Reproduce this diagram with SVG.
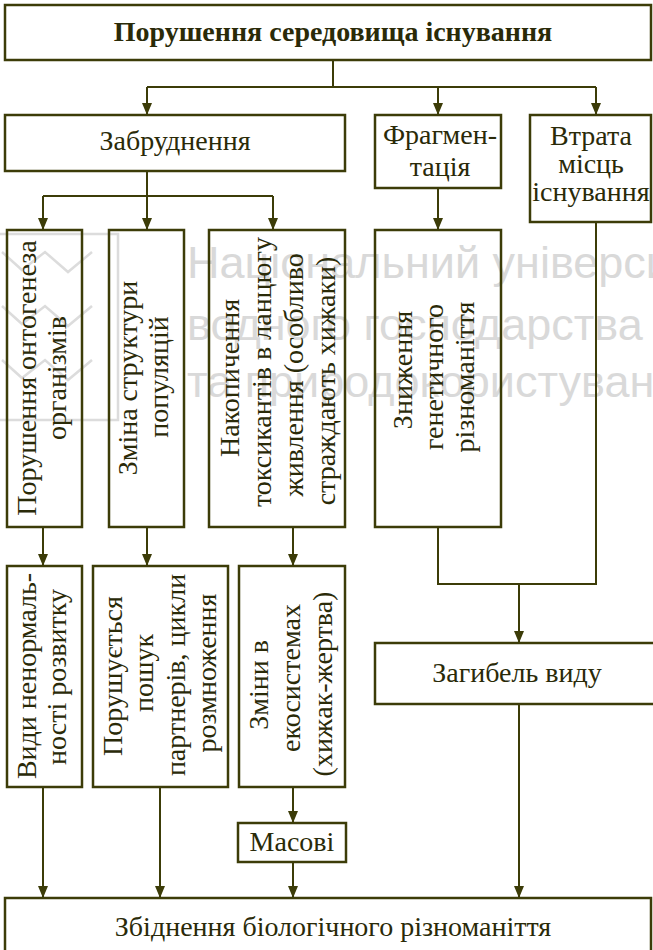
<svg xmlns="http://www.w3.org/2000/svg" width="653" height="950" viewBox="0 0 653 950">
<defs>
<style>
.box{fill:none;stroke:#3c3c08;stroke-width:2.5}
.ln{fill:none;stroke:#3c3c08;stroke-width:2}
.ar{fill:none;stroke:#3c3c08;stroke-width:2;marker-end:url(#ah)}
.t{font-family:"Liberation Serif","Times New Roman",serif;font-size:28px;fill:#2a2a08;text-anchor:middle}
.b{font-weight:bold}
.wm{font-family:"Liberation Sans",Arial,sans-serif;font-size:45px;fill:#d9d9d9}
.wl{fill:none;stroke:#dcdcdc;stroke-width:2.5}
</style>
<marker id="ah" viewBox="0 0 12 10" refX="12" refY="5" markerWidth="12" markerHeight="10" markerUnits="userSpaceOnUse" orient="auto">
<path d="M0,0 L12,5 L0,10 z" fill="#3c3c08"/>
</marker>
</defs>
<rect x="0" y="0" width="653" height="950" fill="#ffffff"/>
<g id="watermark">
<path class="wl" d="M0,234 H118 V420 H0"/>
<path class="wl" d="M2,252 L22,270 L45,252 L68,272 L92,252"/>
<path class="wl" d="M2,306 L22,324 L45,306 L68,326 L92,306"/>
<path class="wl" d="M2,360 L22,378 L45,360 L68,380 L92,360"/>
<text class="wm" x="187" y="278">Національний університет</text>
<text class="wm" x="187" y="340">водного господарства</text>
<text class="wm" x="187" y="397">та природокористування</text>
</g>
<g id="connectors">
<path class="ln" d="M333,60 V87 M147,87 H596"/>
<path class="ar" d="M147,87 V115"/>
<path class="ar" d="M438,87 V115"/>
<path class="ar" d="M596,87 V115"/>
<path class="ln" d="M147,171 V196 M43,196 H273"/>
<path class="ar" d="M43,196 V230"/>
<path class="ar" d="M147,196 V230"/>
<path class="ar" d="M273,196 V230"/>
<path class="ar" d="M438,188 V230"/>
<path class="ln" d="M596,222 V584 H438 V527"/>
<path class="ar" d="M519,584 V643"/>
<path class="ar" d="M43,527 V566"/>
<path class="ar" d="M147,527 V566"/>
<path class="ar" d="M293,527 V566"/>
<path class="ar" d="M43,787 V898"/>
<path class="ar" d="M160,787 V898"/>
<path class="ar" d="M293,787 V823"/>
<path class="ar" d="M293,862 V898"/>
<path class="ar" d="M519,704 V898"/>
</g>
<g id="n-top">
<rect class="box" x="5" y="5" width="646" height="55"/>
<text class="t b" x="333" y="41">Порушення середовища існування</text>
</g>
<g id="n-zabrudnennia">
<rect class="box" x="5" y="115" width="340" height="56"/>
<text class="t" x="175" y="150">Забруднення</text>
</g>
<g id="n-fragmentatsiia">
<rect class="box" x="375" y="115" width="126" height="73"/>
<text class="t" x="440" y="144">Фрагмен-</text>
<text class="t" x="440" y="176">тація</text>
</g>
<g id="n-vtrata">
<rect class="box" x="530" y="115" width="121" height="107"/>
<text class="t" x="591" y="145">Втрата</text>
<text class="t" x="591" y="173">місць</text>
<text class="t" x="591" y="201">існування</text>
</g>
<g id="n-ontogenez">
<rect class="box" x="7" y="230" width="75" height="297"/>
<text class="t" transform="translate(36,378) rotate(-90)">Порушення онтогенеза</text>
<text class="t" transform="translate(66,378) rotate(-90)">організмів</text>
</g>
<g id="n-struktura">
<rect class="box" x="109" y="230" width="75" height="297"/>
<text class="t" transform="translate(137,378) rotate(-90)">Зміна структури</text>
<text class="t" transform="translate(168,377) rotate(-90)">популяцій</text>
</g>
<g id="n-nakopychennia">
<rect class="box" x="209" y="230" width="136" height="297"/>
<text class="t" transform="translate(239,378) rotate(-90)">Накопичення</text>
<text class="t" transform="translate(271,372) rotate(-90)">токсикантів в ланцюгу</text>
<text class="t" transform="translate(303,375) rotate(-90)">живлення (особливо</text>
<text class="t" transform="translate(335,381) rotate(-90)">страждають хижаки)</text>
</g>
<g id="n-znyzhennia">
<rect class="box" x="375" y="230" width="126" height="297"/>
<text class="t" transform="translate(412,370) rotate(-90)">Зниження</text>
<text class="t" transform="translate(443,377) rotate(-90)">генетичного</text>
<text class="t" transform="translate(474,377) rotate(-90)">різноманіття</text>
</g>
<g id="n-vydy">
<rect class="box" x="7" y="566" width="75" height="221"/>
<text class="t" transform="translate(36,676) rotate(-90)">Види ненормаль-</text>
<text class="t" transform="translate(66,677) rotate(-90)">ності розвитку</text>
</g>
<g id="n-poshuk">
<rect class="box" x="93" y="566" width="135" height="221"/>
<text class="t" transform="translate(122,676) rotate(-90)">Порушується</text>
<text class="t" transform="translate(153,673) rotate(-90)">пошук</text>
<text class="t" transform="translate(185,675) rotate(-90)">партнерів, цикли</text>
<text class="t" transform="translate(216,673) rotate(-90)">розмноження</text>
</g>
<g id="n-ekosystemy">
<rect class="box" x="239" y="566" width="106" height="221"/>
<text class="t" transform="translate(268,685) rotate(-90)">Зміни в</text>
<text class="t" transform="translate(300,678) rotate(-90)">екосистемах</text>
<text class="t" transform="translate(332,684) rotate(-90)">(хижак-жертва)</text>
</g>
<g id="n-masovi">
<rect class="box" x="238" y="823" width="108" height="39"/>
<text class="t" x="292" y="851">Масові</text>
</g>
<g id="n-zahybel">
<rect class="box" x="375" y="643" width="282" height="61"/>
<text class="t" x="517" y="682">Загибель виду</text>
</g>
<g id="n-zbidnennia">
<rect class="box" x="5" y="898" width="646" height="62"/>
<text class="t" x="333" y="936">Збіднення біологічного різноманіття</text>
</g>
</svg>
